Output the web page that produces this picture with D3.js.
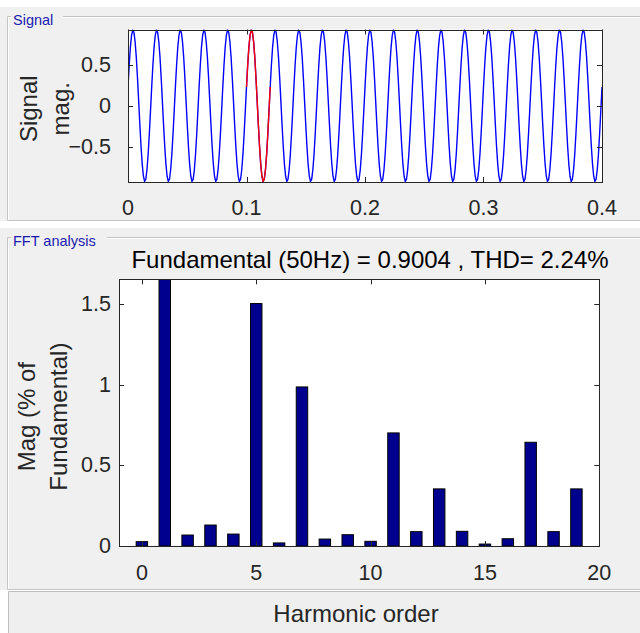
<!DOCTYPE html>
<html>
<head>
<meta charset="utf-8">
<script src="https://cdn.jsdelivr.net/npm/d3@7"></script>
<style>
  html, body { margin: 0; padding: 0; background: #ffffff; }
  svg { display: block; }
  text { font-family: "Liberation Sans", Arial, sans-serif; }
</style>
</head>
<body>
<svg id="fig" width="640" height="633"></svg>
<script>
// ---- data -------------------------------------------------------------
// one period of the measured signal, sampled every 1 ms (50 Hz)
const cycleSamples = [0.228, 0.492, 0.708, 0.855, 0.918, 0.892, 0.777, 0.588, 0.339, 0.059,
                      -0.228, -0.492, -0.708, -0.855, -0.918, -0.892, -0.777, -0.588, -0.339, -0.059];
const sampleTime = 0.001;      // s
const signalCycles = 20;        // periods shown in the window
const highlightCycle = 5;       // period analysed by the FFT (0.10 s .. 0.12 s)

// harmonic magnitudes, % of fundamental, orders 0..19
const harmonicOrders = d3.range(0, 20);
const harmonicMag = [0.027, 100, 0.068, 0.130, 0.074, 1.503, 0.019, 0.986, 0.043, 0.070,
                     0.029, 0.701, 0.089, 0.354, 0.091, 0.012, 0.045, 0.643, 0.089, 0.354];

const signalXTicks = [0, 0.1, 0.2, 0.3, 0.4];
const signalYTicks = [-0.5, 0, 0.5];
const fftXTicks = [0, 5, 10, 15, 20];
const fftYTicks = [0, 0.5, 1, 1.5];
const fftTitle = "Fundamental (50Hz) = 0.9004 , THD= 2.24%";

// ---- layout -----------------------------------------------------------
const svg = d3.select("#fig");
const axisColor = "#262626";
const panelBg = "#f0f0f0";
const tickLen = 5;
const tickFont = 21.5;

// build the sample series
const perCycle = cycleSamples.length;
const signal = d3.range(perCycle * signalCycles + 1).map(i => ({
  t: i * sampleTime,
  v: cycleSamples[i % perCycle],
  i
}));

// ---- panels -----------------------------------------------------------
function titledPanel(y0, y1, borderY, title, gapEnd) {
  svg.append("rect").attr("x", 0).attr("y", y0).attr("width", 640).attr("height", y1 - y0)
    .attr("fill", panelBg);
  const g = svg.append("g").attr("fill", "none").attr("stroke-width", 1);
  // etched border: grey line with a white highlight
  g.append("path").attr("stroke", "#ffffff")
    .attr("d", `M8.5,${y1 - 0.5}V${borderY + 1.5}H11 M${gapEnd},${borderY + 1.5}H640`);
  g.append("path").attr("stroke", "#c4c4c4")
    .attr("d", `M640,${y1 - 0.5}H7.5V${borderY + 0.5}H11 M${gapEnd},${borderY + 0.5}H640`);
  svg.append("text").attr("x", 13).attr("y", borderY + 8.5)
    .attr("font-size", 14.5).attr("fill", "#1a1ab0").text(title);
}
titledPanel(7, 221, 16, "Signal", 63);
titledPanel(228, 590, 237, "FFT analysis", 107);

// box holding the harmonic-order label
svg.append("rect").attr("x", 8).attr("y", 591).attr("width", 632).attr("height", 42).attr("fill", "#efefef");
svg.append("path").attr("d", "M8.5,633V591.5H640").attr("fill", "none").attr("stroke", "#bdbdbd");

// ---- axes helpers -----------------------------------------------------
function axesFrame(x, y) {
  const [l, r] = x.range();
  const [b, t] = y.range();
  svg.append("rect").attr("x", l).attr("y", t).attr("width", r - l).attr("height", b - t)
    .attr("fill", "#ffffff");
}

function axesOverlay(x, y, xTicks, yTicks, xFmt, yFmt, xLabelY, yLabelX) {
  const [l, r] = x.range();
  const [b, t] = y.range();
  const g = svg.append("g");
  // inward ticks on all four sides
  const tg = g.append("g").attr("stroke", axisColor).attr("stroke-width", 1);
  xTicks.forEach(v => {
    const px = Math.round(x(v)) + 0.5;
    tg.append("line").attr("x1", px).attr("x2", px).attr("y1", b).attr("y2", b - tickLen);
    tg.append("line").attr("x1", px).attr("x2", px).attr("y1", t).attr("y2", t + tickLen);
  });
  yTicks.forEach(v => {
    const py = Math.round(y(v)) + 0.5;
    tg.append("line").attr("x1", l).attr("x2", l + tickLen).attr("y1", py).attr("y2", py);
    tg.append("line").attr("x1", r).attr("x2", r - tickLen).attr("y1", py).attr("y2", py);
  });
  g.append("rect").attr("x", Math.round(l) + 0.5).attr("y", Math.round(t) + 0.5)
    .attr("width", Math.round(r) - Math.round(l)).attr("height", Math.round(b) - Math.round(t))
    .attr("fill", "none").attr("stroke", axisColor).attr("stroke-width", 1);
  // tick labels
  g.append("g").selectAll("text").data(xTicks).join("text")
    .attr("x", d => x(d)).attr("y", xLabelY)
    .attr("text-anchor", "middle").attr("dominant-baseline", "central")
    .attr("font-size", tickFont).attr("fill", axisColor).text(xFmt);
  g.append("g").selectAll("text").data(yTicks).join("text")
    .attr("x", yLabelX).attr("y", d => y(d))
    .attr("text-anchor", "end").attr("dominant-baseline", "central")
    .attr("font-size", tickFont).attr("fill", axisColor).text(yFmt);
}

// ---- signal axes ------------------------------------------------------
const sx = d3.scaleLinear().domain([0, 0.4]).range([128, 602]);
const sy = d3.scaleLinear().domain([-0.925, 0.925]).range([182, 29.5]);

axesFrame(sx, sy);
svg.append("clipPath").attr("id", "clipSig").append("rect")
  .attr("x", 128).attr("y", 29.5).attr("width", 474).attr("height", 152.5);

const line = d3.line().x(d => sx(d.t)).y(d => sy(d.v));
const sigG = svg.append("g").attr("clip-path", "url(#clipSig)");
sigG.append("path").datum(signal).attr("d", line)
  .attr("fill", "none").attr("stroke", "#0000ff").attr("stroke-width", 1.4);
const hiStart = highlightCycle * perCycle;
sigG.append("path").datum(signal.filter(d => d.i >= hiStart && d.i <= hiStart + perCycle))
  .attr("d", line).attr("fill", "none").attr("stroke", "#ff0000").attr("stroke-width", 1.4);

axesOverlay(sx, sy, signalXTicks, signalYTicks, d => d3.format("")(d), d => d3.format("")(d), 208, 111);

// y label of the signal axes (two lines)
const sLab = svg.append("text").attr("transform", `translate(0,${(29.5 + 182) / 2 + 3}) rotate(-90)`)
  .attr("text-anchor", "middle").attr("font-size", 24).attr("fill", axisColor);
sLab.append("tspan").attr("x", 0).attr("y", 37).text("Signal");
sLab.append("tspan").attr("x", 0).attr("y", 69).text("mag.");

// ---- FFT axes ---------------------------------------------------------
const fx = d3.scaleLinear().domain([-1, 20]).range([119, 599.3]);
const yTop = 1.1 * d3.max(harmonicMag.filter((d, i) => harmonicOrders[i] !== 1));
const fy = d3.scaleLinear().domain([0, yTop]).range([546, 279.3]);

axesFrame(fx, fy);
svg.append("clipPath").attr("id", "clipFft").append("rect")
  .attr("x", 119).attr("y", 279.3).attr("width", 480.3).attr("height", 266.7);

const barW = 0.5;
svg.append("g").attr("clip-path", "url(#clipFft)")
  .selectAll("rect").data(harmonicOrders).join("rect")
  .attr("x", d => fx(d - barW / 2))
  .attr("width", fx(barW) - fx(0))
  .attr("y", (d, i) => fy(harmonicMag[i]))
  .attr("height", (d, i) => fy(0) - fy(harmonicMag[i]))
  .attr("fill", "#00008f").attr("stroke", "#000000").attr("stroke-width", 1);

axesOverlay(fx, fy, fftXTicks, fftYTicks, d => d, d => d3.format("")(d), 572.5, 111);

svg.append("text").attr("x", 370).attr("y", 268).attr("text-anchor", "middle")
  .attr("font-size", 24).attr("fill", "#000000").text(fftTitle);

const fLab = svg.append("text").attr("transform", `translate(0,${(279.3 + 546) / 2 + 4}) rotate(-90)`)
  .attr("text-anchor", "middle").attr("font-size", 24).attr("fill", axisColor);
fLab.append("tspan").attr("x", 0).attr("y", 35).text("Mag (% of");
fLab.append("tspan").attr("x", 0).attr("y", 67).text("Fundamental)");

svg.append("text").attr("x", 356).attr("y", 613).attr("text-anchor", "middle")
  .attr("dominant-baseline", "central").attr("font-size", 24).attr("fill", axisColor)
  .text("Harmonic order");
</script>
</body>
</html>
